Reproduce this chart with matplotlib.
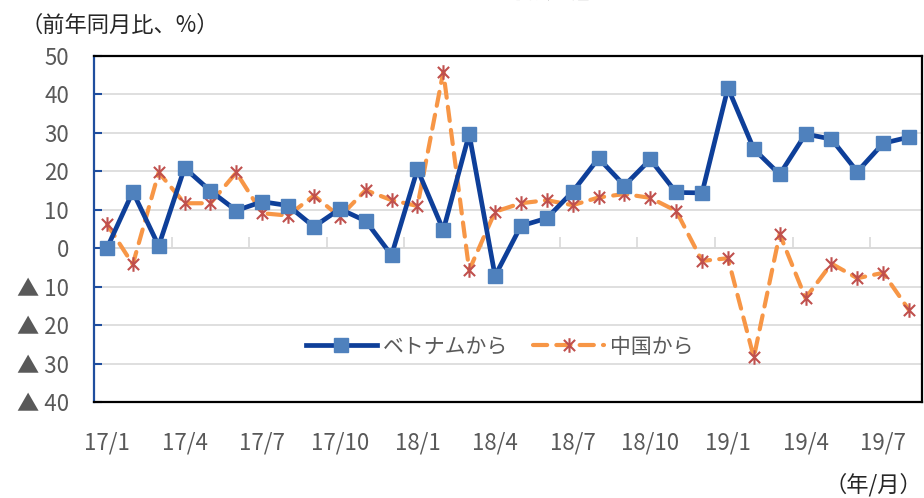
import matplotlib
matplotlib.use("Agg")
import matplotlib.pyplot as plt
from matplotlib.path import Path
import numpy as np

plt.rcParams['font.family'] = ['Noto Sans CJK JP', 'DejaVu Sans']

# data (前年同月比, %)
months = ['17/1', '17/2', '17/3', '17/4', '17/5', '17/6', '17/7', '17/8',
          '17/9', '17/10', '17/11', '17/12', '18/1', '18/2', '18/3', '18/4',
          '18/5', '18/6', '18/7', '18/8', '18/9', '18/10', '18/11', '18/12',
          '19/1', '19/2', '19/3', '19/4', '19/5', '19/6', '19/7', '19/8']
vietnam = [0.0, 14.7, 0.6, 20.9, 14.9, 9.8, 12.1, 11.1, 5.6, 10.2, 7.1, -1.8,
           20.5, 4.7, 29.7, -7.2, 5.8, 7.8, 14.7, 23.4, 16.3, 23.1, 14.5, 14.4,
           41.7, 25.8, 19.2, 29.7, 28.4, 19.9, 27.3, 28.9]
china = [6.3, -4.2, 19.7, 11.7, 11.7, 19.7, 9.1, 8.5, 13.7, 8.2, 15.1, 12.5,
         11.0, 45.9, -5.7, 9.5, 11.7, 12.5, 11.2, 13.2, 14.1, 13.1, 9.7, -3.3,
         -2.6, -28.4, 3.7, -13.0, -4.0, -7.8, -6.4, -16.1]
yticks = [-40, -30, -20, -10, 0, 10, 20, 30, 40, 50]
ylabels = ['▲ 40', '▲ 30', '▲ 20', '▲ 10', '0', '10', '20', '30', '40', '50']

GRAY = '#595959'
GRID = '#D9D9D9'

# asterisk marker: X with a vertical bar
ast = Path([(-1, -1), (1, 1), (-1, 1), (1, -1), (0, -1.3), (0, 1.3)],
           [Path.MOVETO, Path.LINETO, Path.MOVETO, Path.LINETO, Path.MOVETO, Path.LINETO])

fig = plt.figure(figsize=(9.24, 4.98), dpi=100)
ax = fig.add_axes([94 / 924, 96 / 498, 828 / 924, 346 / 498])

x = np.arange(len(months))
ax.plot(x, vietnam, color='#0E3F99', lw=3.4, marker='s', ms=9.5,
        mfc='#4F81BD', mec='#4F81BD', label='ベトナムから', zorder=4)
ax.plot(x, china, color='#F79646', lw=3.0, ls=(0, (3.4, 2.2)),
        dash_capstyle='round', marker=ast, ms=10.5, mec='#C0504D', mew=1.5,
        label='中国から', zorder=3)

ax.set_xlim(-0.5, len(months) - 0.5)
ax.set_ylim(-40, 50)

ax.set_yticks(yticks)
ax.set_yticklabels(ylabels)
ax.yaxis.grid(True, color=GRID, lw=1.2)
ax.set_axisbelow(True)
ax.tick_params(axis='y', direction='in', length=6, width=1.5, color='#1F4E9E',
               pad=18, labelsize=16, labelcolor=GRAY)

ax.set_xticks(x[::3])
ax.set_xticklabels(months[::3])
ax.tick_params(axis='x', length=0, pad=21, labelsize=16, labelcolor=GRAY)

for s in ['top', 'right', 'bottom']:
    ax.spines[s].set_color('black')
    ax.spines[s].set_linewidth(1.6)
ax.spines['left'].set_color('#1F4E9E')
ax.spines['left'].set_linewidth(1.6)

# horizontal axis line at 0 with category-boundary ticks
sec = ax.secondary_xaxis(40 / 90)
sec.set_xticks(np.arange(-0.5, len(months), 3))
sec.set_xticklabels([])
sec.tick_params(direction='in', length=8, width=1.2, color=GRID)
sec.spines['bottom'].set_color(GRID)
sec.spines['bottom'].set_linewidth(1.2)

ax.legend(loc='center', bbox_to_anchor=(0.49, 0.16), ncol=2, frameon=False,
          fontsize=15, labelcolor=GRAY, handlelength=3.4, numpoints=1,
          columnspacing=1.2, handletextpad=0.3)

fig.text(20 / 924, 1 - 25 / 498, '（前年同月比、%）', fontsize=16, color='#262626',
         ha='left', va='center')
fig.text(922 / 924, 1 - 485 / 498, '（年/月）', fontsize=16, color='#262626',
         ha='right', va='center')
fig.text(494 / 924, 1 + 3 / 498, '【米国の輸入】', fontsize=24, fontweight='bold',
         color='black', ha='center', va='baseline')

fig.savefig('out.png', dpi=100)
